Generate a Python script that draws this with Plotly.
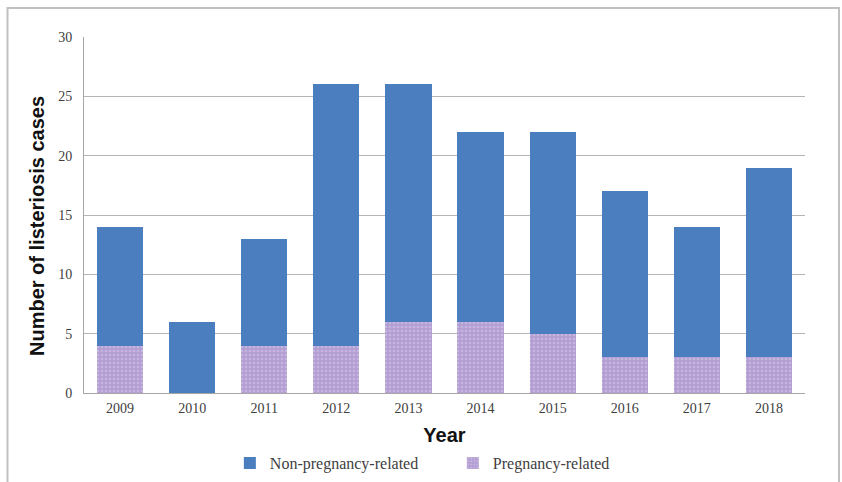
import plotly.graph_objects as go

years = ["2009", "2010", "2011", "2012", "2013", "2014", "2015", "2016", "2017", "2018"]
total_cases = [14, 6, 13, 26, 26, 22, 22, 17, 14, 19]
pregnancy_related = [4, 0, 4, 4, 6, 6, 5, 3, 3, 3]
non_pregnancy_related = [t - p for t, p in zip(total_cases, pregnancy_related)]

serif = "Liberation Serif, Times New Roman, serif"
sans = "Liberation Sans, Arial, sans-serif"

fig = go.Figure()
fig.add_trace(go.Bar(
    x=years, y=pregnancy_related, name="Pregnancy-related",
    marker=dict(color="#b39ed3", line=dict(width=0),
                pattern=dict(shape=".", bgcolor="#b39ed3", fgcolor="#d9cbec",
                             size=4, solidity=0.35)),
    legendrank=2,
))
fig.add_trace(go.Bar(
    x=years, y=non_pregnancy_related, name="Non-pregnancy-related",
    marker=dict(color="#4a7ebf", line=dict(width=0)),
    legendrank=1,
))

fig.update_layout(
    width=842, height=482,
    margin=dict(l=84, r=37, t=37, b=89),
    barmode="stack", bargap=0.36,
    plot_bgcolor="white", paper_bgcolor="white",
    font=dict(family=serif, size=14, color="#404040"),
    legend=dict(orientation="h", traceorder="normal",
                xref="paper", x=0.2023, xanchor="left",
                yref="container", y=1 - 463 / 482, yanchor="middle",
                font=dict(family=serif, size=16, color="#404040"),
                entrywidth=178, entrywidthmode="pixels", itemwidth=30,
                bgcolor="rgba(0,0,0,0)"),
    xaxis=dict(
        automargin=False,
        showline=True, linecolor="#a6a6a6", linewidth=1, ticks="",
        ticklabelstandoff=2,
        tickfont=dict(family=serif, size=14, color="#404040"),
        title=dict(text="<b>Year</b>", font=dict(family=sans, size=20, color="#111111"),
                   standoff=19),
    ),
    yaxis=dict(
        automargin=False,
        range=[0, 30], dtick=5, showgrid=True, gridcolor="#b4b4b4", gridwidth=1,
        showline=True, linecolor="#a6a6a6", linewidth=1, ticks="",
        zeroline=False, ticklabelstandoff=8,
        tickfont=dict(family=serif, size=14, color="#404040"),
    ),
    annotations=[
        dict(text="<b>Number of listeriosis cases</b>", textangle=-90,
             xref="paper", yref="paper", x=(37 - 84) / 721, y=(393 - 226) / 356,
             xanchor="center", yanchor="middle", showarrow=False,
             font=dict(family=sans, size=20, color="#111111")),
    ],
    shapes=[
        dict(type="rect", xref="paper", yref="paper",
             x0=-0.1061, x1=1.0472, y0=-0.35, y1=1.0815,
             line=dict(color="#c0c0c0", width=2), fillcolor="rgba(0,0,0,0)", layer="below"),
    ],
)

fig.write_html("out.html")
